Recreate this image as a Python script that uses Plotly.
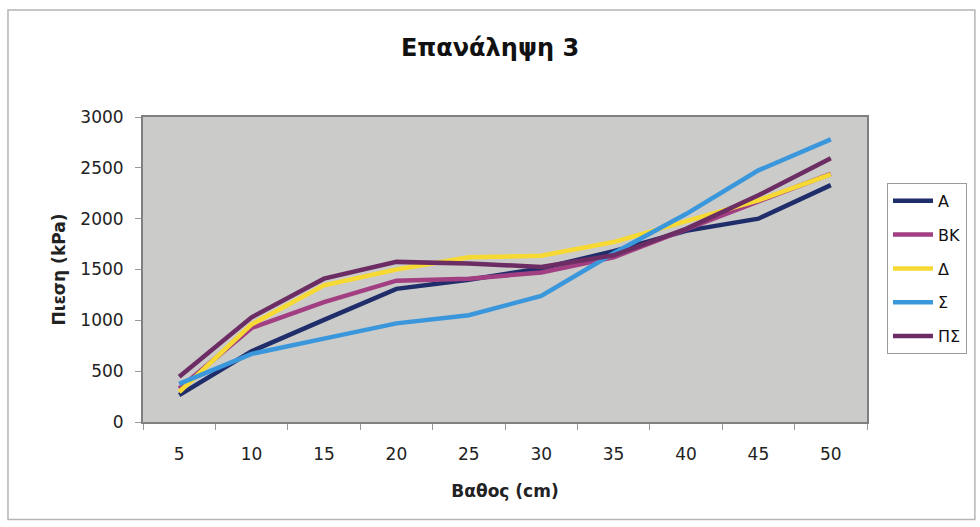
import plotly.graph_objects as go

depth = ["5", "10", "15", "20", "25", "30", "35", "40", "45", "50"]
A = [265, 695, 1005, 1310, 1400, 1510, 1680, 1880, 2000, 2330]
BK = [330, 925, 1180, 1390, 1410, 1470, 1620, 1900, 2170, 2440]
Delta = [295, 960, 1345, 1500, 1620, 1635, 1770, 1980, 2180, 2435]
Sigma = [375, 670, 820, 970, 1050, 1240, 1660, 2045, 2475, 2780]
PS = [445, 1030, 1410, 1575, 1560, 1525, 1640, 1900, 2230, 2595]

names = ["A", "BK", "Δ", "Σ", "ΠΣ"]
series = [A, BK, Delta, Sigma, PS]
colors = ["#1f2d6b", "#a23f82", "#f7d934", "#3b97dc", "#6b2d63"]

fig = go.Figure()
for n, s, c in zip(names, series, colors):
    fig.add_trace(go.Scatter(x=depth, y=s, name=n, mode="lines", legendgroup=n,
                             line=dict(color=c, width=4.5)))

font = "DejaVu Sans, Liberation Sans, Arial, sans-serif"
fig.update_layout(
    width=980, height=527,
    margin=dict(l=143, r=113, t=117, b=105),
    paper_bgcolor="white",
    plot_bgcolor="#cbcbc9",
    font=dict(family=font, color="#222", size=17),
    title=dict(text="<b>Επανάληψη 3</b>", x=0.5, xanchor="center", y=0.91, yanchor="middle",
               font=dict(size=24, family=font, color="#111")),
    showlegend=True,
    legend=dict(x=1.0276, xanchor="left", y=0.784, yanchor="top",
                bordercolor="#9a9a9a", borderwidth=1, bgcolor="white", itemwidth=40,
                font=dict(size=16, family=font, color="#111"), tracegroupgap=10),
    xaxis=dict(type="category", range=[-0.5, 9.5], tickson="boundaries", ticks="outside", ticklen=6,
               tickcolor="#999", showgrid=False, showline=True, linecolor="#808080",
               linewidth=2, mirror=True, ticklabelstandoff=16,
               title=dict(text="<b>Βαθος (cm)</b>", font=dict(size=17, family=font), standoff=22)),
    yaxis=dict(range=[0, 3000], dtick=500, ticks="outside", ticklen=6, tickcolor="#999",
               showgrid=False, showline=True, linecolor="#808080", linewidth=2, mirror=True,
               zeroline=False, ticklabelstandoff=8,
               title=dict(text="<b>Πιεση (kPa)</b>", font=dict(size=17, family=font), standoff=10)),
    shapes=[dict(type="rect", xref="paper", yref="paper", x0=-0.1865, x1=1.149, y0=-0.32, y1=1.351,
                 line=dict(color="#b5b5b5", width=1.5), layer="below")],
)

fig.write_html("out.html")
